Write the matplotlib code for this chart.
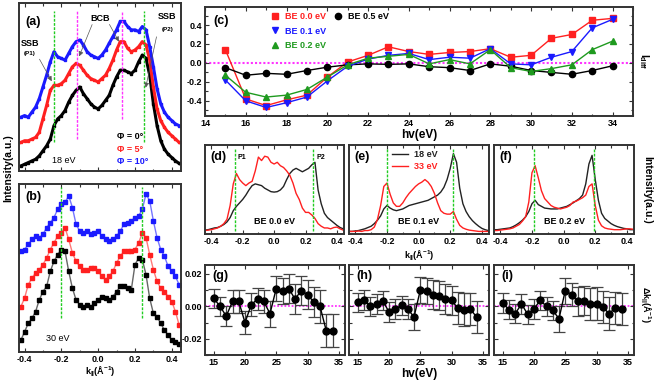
import numpy as np
import matplotlib
matplotlib.use("Agg")
import matplotlib.pyplot as plt
from matplotlib.ticker import MultipleLocator

plt.rcParams['font.family'] = ['Liberation Sans', 'DejaVu Sans']
plt.rcParams['font.weight'] = 'bold'
plt.rcParams['axes.labelweight'] = 'bold'
plt.rcParams['mathtext.fontset'] = 'custom'
plt.rcParams['mathtext.rm'] = 'Liberation Sans:bold'
plt.rcParams['mathtext.it'] = 'Liberation Sans:bold'
plt.rcParams['mathtext.bf'] = 'Liberation Sans:bold'
plt.rcParams['mathtext.default'] = 'rm'

RED = '#ff2020'
BLUE = '#1a1aff'
GREEN = '#1f9a1f'
DGREEN = '#22cc22'
MAG = '#ff33ff'
FRAME = '#333333'

# ---- (a) 18 eV MDCs, Phi = 0, 5, 10 deg ----
k_ab = [-0.42, -0.40, -0.38, -0.36, -0.34, -0.32, -0.30, -0.28, -0.26, -0.24, -0.22,
        -0.20, -0.18, -0.16, -0.14, -0.12, -0.10, -0.08, -0.06, -0.04, -0.02, 0.00,
        0.02, 0.04, 0.06, 0.08, 0.10, 0.12, 0.14, 0.16, 0.18, 0.20, 0.22, 0.24,
        0.26, 0.28, 0.30, 0.32, 0.34, 0.36, 0.38, 0.40, 0.42, 0.44]
a_phi0 = [0.03, 0.04, 0.05, 0.06, 0.07, 0.09, 0.12, 0.15, 0.19, 0.27, 0.31,
          0.33, 0.36, 0.41, 0.45, 0.48, 0.50, 0.46, 0.43, 0.40, 0.38, 0.37,
          0.39, 0.42, 0.45, 0.51, 0.56, 0.60, 0.60, 0.59, 0.58, 0.60, 0.65, 0.69,
          0.67, 0.57, 0.40, 0.27, 0.18, 0.13, 0.10, 0.08, 0.06, 0.045]
a_phi5 = [0.17, 0.18, 0.18, 0.19, 0.20, 0.23, 0.31, 0.39, 0.48, 0.51, 0.51,
          0.52, 0.54, 0.58, 0.62, 0.64, 0.63, 0.60, 0.57, 0.55, 0.54, 0.53,
          0.55, 0.57, 0.61, 0.66, 0.72, 0.77, 0.77, 0.73, 0.71, 0.72, 0.74, 0.77,
          0.75, 0.66, 0.50, 0.37, 0.30, 0.26, 0.23, 0.21, 0.19, 0.17]
a_phi10 = [0.32, 0.33, 0.32, 0.35, 0.38, 0.43, 0.50, 0.57, 0.65, 0.71, 0.68,
           0.67, 0.66, 0.70, 0.74, 0.77, 0.78, 0.75, 0.71, 0.69, 0.68, 0.67,
           0.69, 0.72, 0.76, 0.80, 0.84, 0.89, 0.89, 0.86, 0.84, 0.84, 0.83, 0.86,
           0.84, 0.74, 0.62, 0.49, 0.40, 0.35, 0.32, 0.30, 0.28, 0.27]

# ---- (b) 30 eV MDCs ----
b_phi0 = [0.07, 0.12, 0.17, 0.20, 0.24, 0.31, 0.36, 0.39, 0.48, 0.54, 0.58,
          0.61, 0.60, 0.48, 0.38, 0.31, 0.28, 0.27, 0.28, 0.27, 0.29, 0.31,
          0.33, 0.32, 0.31, 0.33, 0.36, 0.39, 0.39, 0.38, 0.37, 0.52, 0.56, 0.55,
          0.46, 0.32, 0.23, 0.21, 0.17, 0.13, 0.10, 0.07, 0.06, 0.05]
b_phi5 = [0.27, 0.32, 0.40, 0.44, 0.47, 0.49, 0.52, 0.56, 0.61, 0.65, 0.69,
          0.71, 0.74, 0.67, 0.59, 0.54, 0.51, 0.49, 0.49, 0.50, 0.50, 0.48,
          0.45, 0.43, 0.45, 0.48, 0.53, 0.57, 0.60, 0.60, 0.60, 0.61, 0.65, 0.71,
          0.68, 0.58, 0.49, 0.42, 0.38, 0.36, 0.33, 0.30, 0.24, 0.16]
b_phi10 = [0.60, 0.61, 0.64, 0.67, 0.69, 0.68, 0.70, 0.74, 0.77, 0.80, 0.85,
           0.88, 0.89, 0.93, 0.86, 0.76, 0.72, 0.71, 0.72, 0.70, 0.71, 0.72,
           0.69, 0.67, 0.66, 0.67, 0.69, 0.72, 0.76, 0.77, 0.78, 0.80, 0.81, 0.85,
           0.94, 0.90, 0.78, 0.68, 0.61, 0.57, 0.51, 0.48, 0.45, 0.40]

# ---- (c) I_diff vs photon energy ----
hv_c = [15, 16, 17, 18, 19, 20, 21, 22, 23, 24, 25, 26, 27, 28, 29, 30, 31, 32, 33, 34]
idiff_be00 = [0.14, -0.38, -0.45, -0.39, -0.34, -0.15, 0.01, 0.08, 0.17, 0.12,
              0.09, 0.11, 0.12, 0.15, 0.06, 0.08, 0.26, 0.30, 0.45, 0.47]
idiff_be01 = [-0.18, -0.40, -0.47, -0.42, -0.36, -0.19, -0.035, 0.04, 0.08, 0.10,
              0.035, 0.06, 0.05, 0.15, -0.01, -0.02, 0.06, 0.12, 0.37, 0.46]
idiff_be02 = [-0.13, -0.31, -0.36, -0.34, -0.28, -0.15, -0.02, 0.05, 0.07, 0.09,
              -0.01, 0.035, -0.01, 0.14, -0.05, -0.09, -0.06, -0.02, 0.14, 0.23]
idiff_be05 = [-0.05, -0.13, -0.11, -0.12, -0.08, -0.045, -0.02, -0.01, -0.015, -0.01,
              -0.04, -0.05, -0.08, -0.01, -0.035, -0.08, -0.10, -0.12, -0.08, -0.03]

# ---- (d)-(f) MDCs at 18 eV and 33 eV ----
k_def = [-0.44, -0.42, -0.40, -0.38, -0.36, -0.34, -0.32, -0.30, -0.28, -0.26, -0.24,
         -0.22, -0.20, -0.18, -0.16, -0.14, -0.12, -0.10, -0.08, -0.06, -0.04, -0.02,
         0.00, 0.02, 0.04, 0.06, 0.08, 0.10, 0.12, 0.14, 0.16, 0.18, 0.20, 0.22,
         0.24, 0.26, 0.28, 0.30, 0.32, 0.34, 0.36, 0.38, 0.40, 0.42, 0.44]
d_18 = [0.015, 0.02, 0.03, 0.04, 0.045, 0.06, 0.08, 0.11, 0.16, 0.24, 0.29,
        0.33, 0.37, 0.42, 0.48, 0.53, 0.55, 0.54, 0.53, 0.50, 0.48, 0.46,
        0.455, 0.46, 0.48, 0.52, 0.60, 0.67, 0.71, 0.73, 0.71, 0.69, 0.71, 0.73,
        0.77, 0.80, 0.48, 0.32, 0.21, 0.16, 0.13, 0.10, 0.07, 0.045, 0.03]
d_33 = [0.01, 0.015, 0.02, 0.03, 0.04, 0.06, 0.09, 0.14, 0.30, 0.55, 0.67,
        0.60, 0.56, 0.53, 0.56, 0.58, 0.70, 0.86, 0.82, 0.87, 0.86, 0.80,
        0.78, 0.80, 0.76, 0.74, 0.70, 0.65, 0.56, 0.44, 0.37, 0.27, 0.22, 0.22,
        0.19, 0.15, 0.09, 0.06, 0.04, 0.04, 0.03, 0.045, 0.05, 0.03, 0.015]
e_18 = [0.0, 0.0, 0.005, 0.01, 0.02, 0.03, 0.045, 0.06, 0.09, 0.13, 0.18,
        0.26, 0.30, 0.27, 0.25, 0.24, 0.25, 0.26, 0.28, 0.30, 0.31, 0.32,
        0.33, 0.34, 0.35, 0.36, 0.38, 0.40, 0.42, 0.455, 0.51, 0.60, 0.73, 0.90,
        0.80, 0.50, 0.32, 0.23, 0.17, 0.125, 0.09, 0.06, 0.035, 0.02, 0.01]
e_33 = [0.0, 0.0, 0.0, 0.005, 0.0, 0.01, 0.01, 0.02, 0.05, 0.14, 0.30,
        0.52, 0.56, 0.43, 0.33, 0.29, 0.29, 0.33, 0.39, 0.44, 0.48, 0.52,
        0.55, 0.57, 0.60, 0.57, 0.52, 0.44, 0.33, 0.24, 0.21, 0.20, 0.20, 0.23,
        0.14, 0.07, 0.04, 0.025, 0.015, 0.01, 0.005, 0.0, 0.0, 0.0, 0.0]
f_18 = [0.02, 0.02, 0.025, 0.03, 0.035, 0.04, 0.055, 0.075, 0.10, 0.13, 0.17,
        0.23, 0.32, 0.36, 0.31, 0.29, 0.27, 0.265, 0.26, 0.26, 0.26, 0.27,
        0.28, 0.29, 0.31, 0.33, 0.355, 0.38, 0.42, 0.55, 0.78, 0.88, 0.60, 0.36,
        0.21, 0.15, 0.12, 0.09, 0.07, 0.055, 0.045, 0.035, 0.03, 0.02, 0.02]
f_33 = [0.01, 0.01, 0.015, 0.02, 0.025, 0.03, 0.04, 0.06, 0.08, 0.12, 0.17,
        0.34, 0.68, 0.76, 0.62, 0.47, 0.38, 0.34, 0.30, 0.28, 0.27, 0.26,
        0.27, 0.28, 0.30, 0.34, 0.35, 0.37, 0.39, 0.42, 0.52, 0.55, 0.30, 0.13,
        0.065, 0.04, 0.03, 0.025, 0.02, 0.02, 0.02, 0.025, 0.03, 0.03, 0.025]

# ---- (g)-(i) delta k vs photon energy ----
hv_g = [15, 16, 17, 18, 19, 20, 21, 22, 23, 24, 25, 26, 27, 28, 29, 30, 31, 32, 33, 34]
dk_g = [0.005, 0.000, -0.006, 0.003, 0.003, -0.010, 0.001, 0.0045, 0.003, -0.0045,
        0.011, 0.0093, 0.011, 0.0045, 0.0097, 0.0072, 0.0027, 0.000, -0.015, -0.015]
err_g = [0.006, 0.006, 0.006, 0.007, 0.007, 0.007, 0.007, 0.007, 0.007, 0.008,
         0.008, 0.008, 0.009, 0.009, 0.009, 0.009, 0.009, 0.010, 0.010, 0.010]
dk_h = [0.0025, 0.004, 0.000, 0.0015, 0.0035, -0.0035, -0.0016, 0.0006, -0.0016, -0.0066,
        0.0099, 0.0093, 0.0072, 0.0066, 0.0045, 0.0037, -0.001, -0.002, -0.0015, -0.0066]
err_h = [0.006, 0.006, 0.006, 0.006, 0.006, 0.006, 0.006, 0.006, 0.006, 0.008,
         0.008, 0.008, 0.009, 0.009, 0.009, 0.009, 0.010, 0.010, 0.010, 0.010]
dk_i = [0.002, -0.002, -0.0045, 0.0015, -0.005, -0.0015, 0.0037, 0.000, -0.0025, -0.0076,
        0.0097, 0.0072, 0.003, 0.0035, 0.0015, 0.0017, -0.0004, -0.0045, -0.001, -0.0016]
err_i = [0.006, 0.006, 0.006, 0.006, 0.006, 0.006, 0.006, 0.006, 0.006, 0.008,
         0.008, 0.007, 0.009, 0.009, 0.010, 0.010, 0.010, 0.010, 0.010, 0.010]


W, H = 654, 383
fig = plt.figure(figsize=(W / 100, H / 100), dpi=100)


def box(x0, y0, x1, y1):
    # pixel box (top-left origin) -> axes
    return fig.add_axes([x0 / W, (H - y1) / H, (x1 - x0) / W, (y1 - y0) / H])


def style(ax, fs=6.5):
    for s in ax.spines.values():
        s.set_color(FRAME)
        s.set_linewidth(1.4)
    ax.tick_params(which='both', direction='in', top=True, right=True,
                   labelsize=fs, color=FRAME, width=0.8, pad=2)
    ax.tick_params(which='major', length=3)
    ax.tick_params(which='minor', length=1.8)


# (a)
ax_a = box(19, 3, 181, 171)
style(ax_a)
ax_a.plot(k_ab, a_phi0, color='k', lw=2.2, marker='s', ms=1.8)
ax_a.plot(k_ab, a_phi5, color=RED, lw=2.2, marker='s', ms=1.8)
ax_a.plot(k_ab, a_phi10, color=BLUE, lw=2.2, marker='s', ms=1.8)
for kv in (-0.24, 0.25):
    ax_a.plot([kv, kv], [0.17, 0.95], color=DGREEN, ls=(0, (2, 1)), lw=1)
ax_a.plot([-0.115, -0.115], [0.19, 0.95], color=MAG, ls=(0, (2, 1)), lw=1)
ax_a.plot([0.13, 0.13], [0.31, 0.95], color=MAG, ls=(0, (2, 1)), lw=1)
ax_a.set_xlim(-0.43, 0.45)
ax_a.set_ylim(0, 1)
ax_a.xaxis.set_major_locator(MultipleLocator(0.2))
ax_a.xaxis.set_minor_locator(MultipleLocator(0.1))
ax_a.set_xticklabels([])
ax_a.set_yticks([])
ax_a.text(0.04, 0.885, '(a)', transform=ax_a.transAxes, fontsize=9, va='center')
ax_a.text(-0.37, 0.76, 'SSB', fontsize=6.5, ha='center', va='center')
ax_a.text(-0.37, 0.70, '(P1)', fontsize=4.5, ha='center', va='center')
ax_a.text(0.01, 0.91, 'BCB', fontsize=6.5, ha='center', va='center')
ax_a.text(0.375, 0.917, 'SSB', fontsize=6.5, ha='center', va='center')
ax_a.text(0.375, 0.845, '(P2)', fontsize=4.5, ha='center', va='center')
arrow_g = dict(arrowstyle='-|>', color='#555555', lw=0.5, mutation_scale=7)
ax_a.annotate('', xy=(-0.245, 0.52), xytext=(-0.326, 0.68), arrowprops=arrow_g)
ax_a.annotate('', xy=(-0.109, 0.667), xytext=(-0.027, 0.887), arrowprops=arrow_g)
ax_a.annotate('', xy=(0.12, 0.756), xytext=(0.054, 0.887), arrowprops=arrow_g)
ax_a.annotate('', xy=(0.255, 0.48), xytext=(0.32, 0.815), arrowprops=arrow_g)
ax_a.text(0.10, 0.205, 'Φ = 0°', fontsize=6.5, color='k', va='center')
ax_a.text(0.10, 0.13, 'Φ = 5°', fontsize=6.5, color=RED, va='center')
ax_a.text(0.10, 0.055, 'Φ = 10°', fontsize=6.5, color=BLUE, va='center')
ax_a.text(-0.185, 0.065, '18 eV', fontsize=6.5, fontweight='normal', ha='center', va='center')

# (b)
ax_b = box(19, 184, 181, 352)
style(ax_b)
ax_b.plot(k_ab, b_phi0, color='k', lw=0, marker='s', ms=2.2)
ax_b.plot(k_ab, b_phi5, color=RED, lw=0, marker='s', ms=2.2)
ax_b.plot(k_ab, b_phi10, color=BLUE, lw=0, marker='s', ms=2.2)
ax_b.plot(k_ab, b_phi0, color='k', lw=1.0, alpha=0.6)
ax_b.plot(k_ab, b_phi5, color=RED, lw=1.0, alpha=0.6)
ax_b.plot(k_ab, b_phi10, color=BLUE, lw=1.0, alpha=0.6)
for kv in (-0.2, 0.24):
    ax_b.plot([kv, kv], [0.2, 0.98], color=DGREEN, ls=(0, (2, 1)), lw=1)
ax_b.set_xlim(-0.43, 0.45)
ax_b.set_ylim(0, 1)
ax_b.xaxis.set_minor_locator(MultipleLocator(0.1))
ax_b.set_xticks([-0.4, -0.2, 0.0, 0.2, 0.4])
ax_b.set_xticklabels(['-0.4', '-0.2', '0.0', '0.2', '0.4'])
ax_b.set_yticks([])
ax_b.set_xlabel(r'k$_{||}$(Å$^{-1}$)', fontsize=6.5, labelpad=0.5)
ax_b.text(0.04, 0.92, '(b)', transform=ax_b.transAxes, fontsize=9, va='center')
ax_b.text(-0.22, 0.083, '30 eV', fontsize=6.5, fontweight='normal', ha='center', va='center')

fig.text(8 / W, 1 - 168 / H, 'Intensity(a.u.)', rotation=90, fontsize=7.5,
         ha='center', va='center')

# (c)
ax_c = box(205, 7, 633, 116)
style(ax_c)
ax_c.axhline(0, color=MAG, ls=(0, (1, 1)), lw=1.5, zorder=1)
l00, = ax_c.plot(hv_c, idiff_be00, color=RED, marker='s', ms=4.5, lw=1, label='BE 0.0 eV')
l05, = ax_c.plot(hv_c, idiff_be05, color='k', marker='o', ms=4.5, lw=1, label='BE 0.5 eV')
l01, = ax_c.plot(hv_c, idiff_be01, color=BLUE, marker='v', ms=4.5, lw=1, label='BE 0.1 eV')
l02, = ax_c.plot(hv_c, idiff_be02, color=GREEN, marker='^', ms=4.5, lw=1, label='BE 0.2 eV')
ax_c.set_xlim(14, 35)
ax_c.set_ylim(-0.56, 0.59)
ax_c.xaxis.set_major_locator(MultipleLocator(2))
ax_c.xaxis.set_minor_locator(MultipleLocator(1))
ax_c.set_yticks([-0.4, -0.2, 0.0, 0.2, 0.4])
ax_c.set_yticklabels(['-0.4', '-0.2', '0.0', '0.2', '0.4'])
ax_c.yaxis.set_minor_locator(MultipleLocator(0.1))
ax_c.set_xlabel('hv(eV)', fontsize=8.5, labelpad=1)
ax_c.text(0.02, 0.87, '(c)', transform=ax_c.transAxes, fontsize=9, va='center')
ax_c.text(1.025, 0.5, r'I$_{diff}$', transform=ax_c.transAxes, rotation=270,
          fontsize=7.5, ha='center', va='center')
leg_opts = dict(loc='upper left', frameon=False, fontsize=6.5, handlelength=0.8,
                handletextpad=0.7, labelspacing=0.62, borderaxespad=0, borderpad=0)
leg1 = ax_c.legend([l00, l01, l02], ['BE 0.0 eV', 'BE 0.1 eV', 'BE 0.2 eV'],
                   bbox_to_anchor=(0.155, 0.955), **leg_opts)
ax_c.add_artist(leg1)
leg2 = ax_c.legend([l05], ['BE 0.5 eV'], bbox_to_anchor=(0.302, 0.955), **leg_opts)
for leg, cols in ((leg1, [RED, BLUE, GREEN]), (leg2, ['k'])):
    for h in leg.legend_handles:
        h.set_linestyle('')
    for t, c in zip(leg.get_texts(), cols):
        t.set_color(c)

# (d), (e), (f)
def mdc_panel(x0, x1, y18, y33, lines, label, tag):
    ax = box(x0, 145, x1, 234)
    style(ax)
    ax.plot(k_def, y18, color='#222222', lw=1.0)
    ax.plot(k_def, y33, color=RED, lw=1.0)
    for kv in lines:
        ax.plot([kv, kv], [0.0, 0.97], color=DGREEN, ls=(0, (2, 1)), lw=1)
    ax.set_xlim(-0.44, 0.445)
    ax.set_ylim(-0.03, 1.0)
    ax.set_xticks([-0.4, -0.2, 0.0, 0.2, 0.4])
    ax.set_xticklabels(['-0.4', '-0.2', '0.0', '0.2', '0.4'])
    ax.xaxis.set_minor_locator(MultipleLocator(0.1))
    ax.set_yticks([])
    ax.text(0.04, 0.86, tag, transform=ax.transAxes, fontsize=9, va='center')
    ax.text(0.5, 0.14, label, transform=ax.transAxes, fontsize=6.5, ha='center', va='center')
    return ax


ax_d = mdc_panel(205, 344, d_18, d_33, (-0.247, 0.248), 'BE 0.0 eV', '(d)')
ax_d.text(-0.23, 0.85, 'P1', fontsize=5, va='center')
ax_d.text(0.27, 0.85, 'P2', fontsize=5, va='center')
ax_e = mdc_panel(349, 489, e_18, e_33, (-0.2, 0.22), 'BE 0.1 eV', '(e)')
ax_e.set_xlabel(r'k$_{||}$(Å$^{-1}$)', fontsize=6.5, labelpad=2)
ax_e.plot([], [], color='#222222', lw=1.0, label='18 eV')
ax_e.plot([], [], color=RED, lw=1.0, label='33 eV')
leg_e = ax_e.legend(loc='upper left', bbox_to_anchor=(0.25, 1.03), frameon=False,
                    fontsize=6.5, handlelength=1.8, handletextpad=0.6, labelspacing=0.3)
for t, c in zip(leg_e.get_texts(), ['#222222', RED]):
    t.set_color(c)
ax_f = mdc_panel(494, 634, f_18, f_33, (-0.184, 0.19), 'BE 0.2 eV', '(f)')
fig.text(647 / W, 1 - 190 / H, 'Intensity(a.u.)', rotation=270, fontsize=7.5,
         ha='center', va='center')

# (g), (h), (i)
def dk_panel(x0, x1, dk, err, tag, ylabels):
    ax = box(x0, 265, x1, 355)
    style(ax)
    ax.axhline(0, color=MAG, ls=(0, (1, 1)), lw=1.3, zorder=1)
    ax.errorbar(hv_g, dk, yerr=err, color='k', ecolor='#444444', elinewidth=0.9,
                capsize=4, capthick=0.9, marker='o', ms=5, lw=1)
    ax.set_xlim(13.6, 36)
    ax.set_ylim(-0.03, 0.0255)
    ax.set_xticks([15, 20, 25, 30, 35])
    ax.set_yticks([-0.02, 0.0, 0.02])
    ax.yaxis.set_minor_locator(MultipleLocator(0.01))
    if ylabels:
        ax.set_yticklabels(['-0.02', '0.00', '0.02'])
    else:
        ax.set_yticklabels([])
    ax.text(0.05, 0.88, tag, transform=ax.transAxes, fontsize=9, va='center')
    return ax


ax_g = dk_panel(205, 345, dk_g, err_g, '(g)', True)
ax_h = dk_panel(349, 489, dk_h, err_h, '(h)', False)
ax_h.set_xlabel('hv(eV)', fontsize=8.5, labelpad=1)
ax_i = dk_panel(494, 634, dk_i, err_i, '(i)', False)
fig.text(645 / W, 1 - 305 / H, r'$\Delta$k$_{||}$(Å$^{-1}$)', rotation=270, fontsize=6.5,
         ha='center', va='center')

fig.savefig('out.png', dpi=100)
